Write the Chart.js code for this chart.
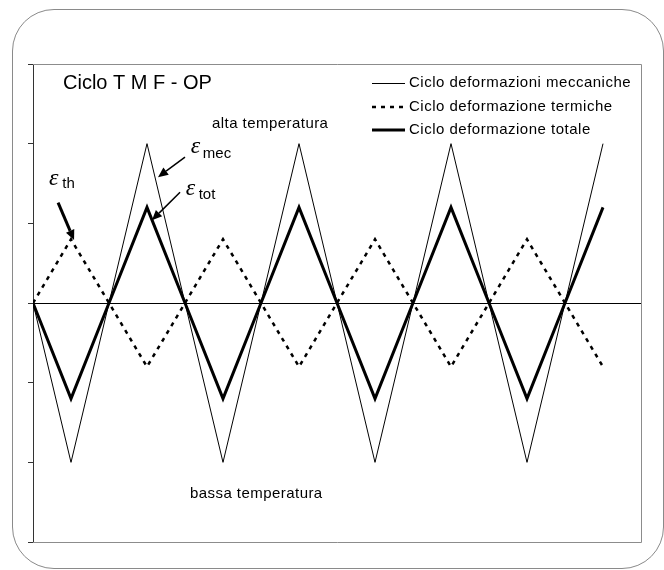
<!DOCTYPE html>
<html><head><meta charset="utf-8">
<script src="https://cdn.jsdelivr.net/npm/chart.js@4.4.0/dist/chart.umd.min.js"></script>
<style>
html,body{margin:0;padding:0;background:#fff;}
#wrap{position:relative;width:664px;height:570px;overflow:hidden;}
#frame{position:absolute;left:12px;top:9px;width:652px;height:560px;border:1px solid #8a8a8a;border-radius:42px;box-sizing:border-box;}
canvas{position:absolute;left:0;top:0;}
</style></head>
<body><div id="wrap"><div id="frame"></div><canvas id="c" width="664" height="570"></canvas></div>
<script>
// quarter-cycle index along the x axis
const phase = [0,1,2,3,4,5,6,7,8,9,10,11,12,13,14,15];
const mec = [0,-2,0,2,0,-2,0,2,0,-2,0,2,0,-2,0,2];
const th  = [0,0.8,0,-0.8,0,0.8,0,-0.8,0,0.8,0,-0.8,0,0.8,0,-0.8];
const tot = [0,-1.2,0,1.2,0,-1.2,0,1.2,0,-1.2,0,1.2,0,-1.2,0,1.2];
const yTicks = [-3,-2,-1,0,1,2,3];
const seriesNames = ['Ciclo deformazioni meccaniche','Ciclo deformazione termiche','Ciclo deformazione totale'];
const chartTitle = 'Ciclo T M F - OP';
const highLabel = 'alta temperatura';
const lowLabel = 'bassa temperatura';
// annotation anchors in data units
const notes = [
  {sym:'mec', eps:[4.15,1.88], sub:[4.47,1.82], from:[4.0,1.83], to:[3.29,1.58], w:1.5},
  {sym:'tot', eps:[4.02,1.36], sub:[4.36,1.30], from:[3.87,1.39], to:[3.13,1.04], w:1.5},
  {sym:'th',  eps:[0.42,1.48], sub:[0.77,1.44], from:[0.66,1.26], to:[1.08,0.79], w:3}
];
const titlePos = [0.79,2.69];
const highPos = [4.71,2.20];
const lowPos = [4.13,-2.45];

const pts = arr => phase.map((p,i)=>({x:p,y:arr[i]}));

function arrow(ctx,x1,y1,x2,y2,w){
  const a = Math.atan2(y2-y1,x2-x1);
  const hl = 10, hw = 4.5;
  const bx = x2 - hl*Math.cos(a), by = y2 - hl*Math.sin(a);
  ctx.save();
  ctx.strokeStyle='#000'; ctx.fillStyle='#000'; ctx.lineWidth=w;
  ctx.beginPath(); ctx.moveTo(x1,y1); ctx.lineTo(bx,by); ctx.stroke();
  ctx.beginPath(); ctx.moveTo(x2,y2);
  ctx.lineTo(bx + hw*Math.sin(a), by - hw*Math.cos(a));
  ctx.lineTo(bx - hw*Math.sin(a), by + hw*Math.cos(a));
  ctx.closePath(); ctx.fill();
  ctx.restore();
}

const decor = {
  id:'decor',
  beforeDatasetsDraw(chart){
    const {ctx, chartArea:a} = chart;
    ctx.save();
    ctx.strokeStyle='#8c8c8c'; ctx.lineWidth=1;
    ctx.beginPath();
    ctx.moveTo(a.left, a.top+0.5); ctx.lineTo(a.right+0.5, a.top+0.5);
    ctx.lineTo(a.right+0.5, a.bottom+0.5); ctx.lineTo(a.left, a.bottom+0.5);
    ctx.stroke();
    ctx.restore();
  },
  afterDraw(chart){
    const {ctx, chartArea:a, scales:{x,y}} = chart;
    const P = p => [x.getPixelForValue(p[0]), y.getPixelForValue(p[1])];
    ctx.save();
    ctx.fillStyle='#000';
    ctx.textBaseline='alphabetic'; ctx.textAlign='left';
    // title
    ctx.letterSpacing='0px';
    ctx.font='20px "Liberation Sans", Arial, sans-serif';
    let q=P(titlePos); ctx.fillText(chartTitle,q[0],q[1]);
    ctx.letterSpacing='0.45px';
    ctx.font='15px "Liberation Sans", Arial, sans-serif';
    q=P(highPos); ctx.fillText(highLabel,q[0],q[1]);
    q=P(lowPos); ctx.fillText(lowLabel,q[0],q[1]);
    // epsilon labels + arrows
    ctx.letterSpacing='0px';
    notes.forEach(n=>{
      ctx.font='italic 24px "Liberation Serif", serif';
      let e=P(n.eps); ctx.fillText('\u03B5',e[0],e[1]);
      ctx.font='15px "Liberation Sans", Arial, sans-serif';
      let s=P(n.sub); ctx.fillText(n.sym,s[0],s[1]);
      const f=P(n.from), t=P(n.to);
      arrow(ctx,f[0],f[1],t[0],t[1],n.w);
    });
    // legend
    const lx1 = a.right-269, lx2 = a.right-236, tx = a.right-232;
    const rows = [a.top+19, a.top+43, a.top+66];
    chart.data.datasets.forEach((ds,i)=>{
      const off = ds.borderWidth<2 ? 0.5 : 0;
      ctx.strokeStyle='#000'; ctx.lineWidth=ds.borderWidth;
      ctx.setLineDash(ds.borderDash||[]);
      ctx.beginPath(); ctx.moveTo(lx1,rows[i]+off); ctx.lineTo(lx2,rows[i]+off); ctx.stroke();
      ctx.setLineDash([]);
      ctx.letterSpacing='0.5px';
      ctx.font='15px "Liberation Sans", Arial, sans-serif';
      ctx.textBaseline='middle';
      ctx.fillText(ds.label, tx, rows[i]);
    });
    ctx.restore();
  }
};

new Chart(document.getElementById('c'),{
  type:'line',
  data:{datasets:[
    {label:seriesNames[0], data:pts(mec), borderColor:'#000', borderWidth:1, pointRadius:0, tension:0},
    {label:seriesNames[1], data:pts(th), borderColor:'#000', borderWidth:2.5, borderDash:[4,5], pointRadius:0, tension:0},
    {label:seriesNames[2], data:pts(tot), borderColor:'#000', borderWidth:3, pointRadius:0, tension:0}
  ]},
  options:{
    responsive:false, animation:false, devicePixelRatio:1,
    layout:{padding:{left:28, top:64, right:23, bottom:28}},
    plugins:{legend:{display:false}, tooltip:{enabled:false}},
    scales:{
      x:{type:'linear', min:0, max:16, display:false},
      y:{min:yTicks[0], max:yTicks[yTicks.length-1],
         afterBuildTicks(s){ s.ticks = yTicks.map(v=>({value:v})); },
         ticks:{display:false},
         grid:{drawOnChartArea:true, tickLength:5, tickColor:'#333',
               color:c=> (c.tick && c.tick.value===0) ? '#000' : 'rgba(0,0,0,0)', lineWidth:1},
         border:{display:true, color:'#333', width:1}}
    }
  },
  plugins:[decor]
});
</script>
</body></html>
